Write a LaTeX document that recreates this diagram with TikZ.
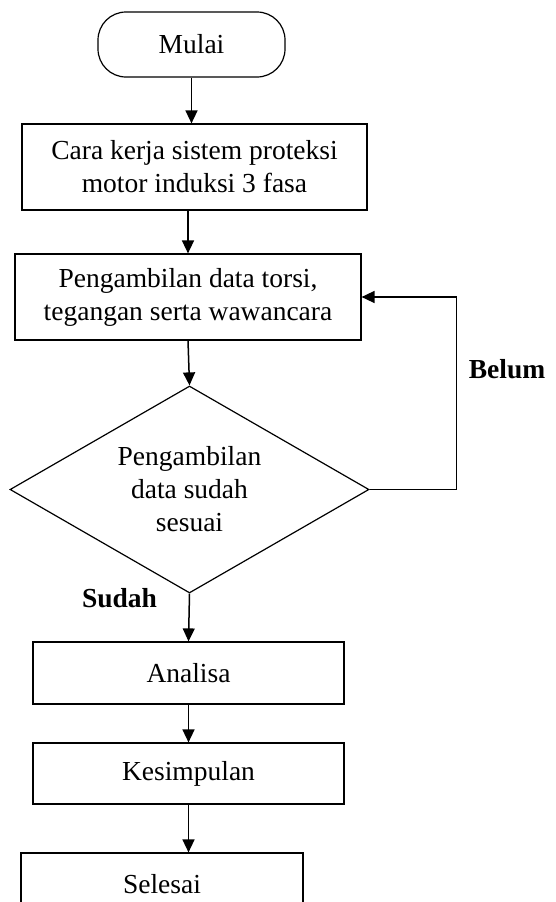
\documentclass[tikz,border=0pt]{standalone}
\usepackage{fontspec}
\setmainfont{Liberation Serif}
\usetikzlibrary{arrows.meta,positioning,shapes.geometric}

\begin{document}
\begin{tikzpicture}[x=1pt,y=-1pt,line width=1.2pt,
  every node/.style={font=\fontsize{27.5}{33}\selectfont,align=center,inner sep=0pt},
  term/.style={draw,rectangle,rounded corners=28pt,minimum width=187pt,minimum height=65pt},
  proc/.style={draw,rectangle,minimum height=86pt},
  decide/.style={draw,diamond,aspect=1.73,minimum width=359pt,minimum height=207pt},
  arr/.style={-{Triangle[length=13pt,width=12pt]},line width=1.5pt},
  lbl/.style={font=\fontsize{27.5}{33}\selectfont\bfseries}]
\useasboundingbox (0,0) rectangle (556,902);
\node[term] (mulai) at (191.5,44.5) {Mulai};
\node[proc,minimum width=345pt] (cara) at (194.5,167) {Cara kerja sistem proteksi\\motor induksi 3 fasa};
\node[proc,minimum width=346pt] (ambil) at (188,297) {Pengambilan data torsi,\\tegangan serta wawancara};
\node[decide] (cek) at (189.5,489.5) {Pengambilan\\data sudah\\sesuai};
\node[proc,minimum width=311pt,minimum height=62pt] (analisa) at (188.5,673) {Analisa};
\node[proc,minimum width=311pt,minimum height=61pt] (simpul) at (188.5,773.5) {Kesimpulan};
\node[proc,minimum width=282pt,minimum height=62pt] (selesai) at (162,884) {Selesai};
\node[lbl] (belum) at (507,369) {Belum};
\node[lbl] (sudah) at (119.5,598) {Sudah};
% alur utama
\draw[arr] (mulai.south) -- (mulai.south |- cara.north);
\draw[arr] (ambil.north |- cara.south) -- (ambil.north);
\draw[arr] (ambil.south) -- (cek.north);
\draw[arr] (cek.south) -- (analisa.north);
\draw[arr] (analisa.south) -- (simpul.north);
\draw[arr] (simpul.south) -- (simpul.south |- selesai.north);
% kembali jika belum sesuai
\draw[arr] (cek.east) -- ++(87,0) |- (ambil.east);
\end{tikzpicture}
\end{document}
